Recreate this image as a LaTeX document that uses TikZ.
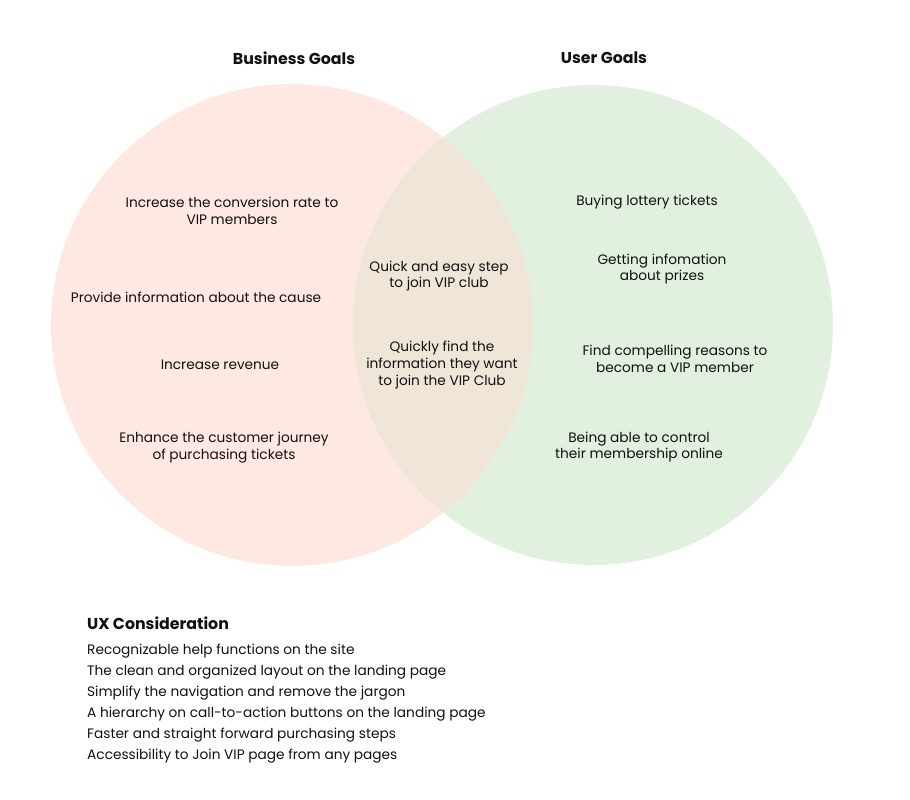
\documentclass[tikz,border=0pt]{standalone}
\usepackage{fontspec}
\setmainfont{Poppins}
\definecolor{bizfill}{HTML}{FDE9E1}
\definecolor{userfill}{HTML}{E2F1DF}
\definecolor{bothfill}{HTML}{EFE6D7}
\definecolor{ink}{HTML}{111111}
\begin{document}
\begin{tikzpicture}[x=1pt,y=-1pt,line join=round,line cap=round,
	goal/.style={align=center,text=ink,font=\fontsize{13.7}{16.8}\selectfont,inner sep=0pt},
	head/.style={text=ink,font=\fontsize{15.8}{18}\selectfont\bfseries,inner sep=0pt},
	item/.style={anchor=west,text=ink,font=\fontsize{13.7}{15}\selectfont,inner sep=0pt}]
	\useasboundingbox (0,0) rectangle (910,800);
	% circles
	\fill[bizfill] (292,325) circle (241);
	\fill[userfill] (593,325) circle (240);
	\begin{scope}
		\clip (292,325) circle (241);
		\fill[bothfill] (593,325) circle (240);
	\end{scope}
	% titles
	\node[head] (biz) at (294,58) {Business Goals};
	\node[head] (user) at (604,58) {User Goals};
	% business goals
	\node[goal] (b1) at (232,210.5) {Increase the conversion rate to\\VIP members};
	\node[goal] (b2) at (196,297) {Provide information about the cause};
	\node[goal] (b3) at (220,365) {Increase revenue};
	\node[goal] (b4) at (224,448) {Enhance the customer journey\\of purchasing tickets};
	% shared
	\node[goal] (s1) at (439,276) {Quick and easy step\\to join VIP club};
	\node[goal] (s2) at (442,365) {Quickly find the\\information they want\\to join the VIP Club};
	% user goals
	\node[goal] (u1) at (647,202) {Buying lottery tickets};
	\node[goal] (u2) at (662,269) {Getting infomation\\about prizes};
	\node[goal] (u3) at (675,359) {Find compelling reasons to\\become a VIP member};
	\node[goal] (u4) at (639,447) {Being able to control\\their membership online};
	% ux list
	\node[head,anchor=west] (ux) at (87,623) {UX Consideration};
	\foreach \t [count=\i] in {Recognizable help functions on the site,
		The clean and organized layout on the landing page,
		Simplify the navigation and remove the jargon,
		A hierarchy on call-to-action buttons on the landing page,
		Faster and straight forward purchasing steps,
		Accessibility to Join VIP page from any pages}
		\node[item] (ux\i) at (87,630+21*\i) {\t};
\end{tikzpicture}
\end{document}
